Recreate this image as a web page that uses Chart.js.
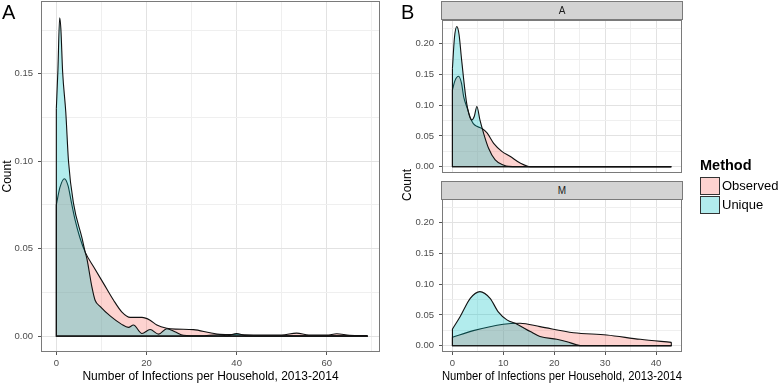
<!DOCTYPE html>
<html>
<head>
  <script src="https://cdn.jsdelivr.net/npm/chart.js@4.4.0/dist/chart.umd.min.js"></script>
  <style>
    body {
      margin: 0;
      width: 778px;
      height: 384px;
      position: relative;
      overflow: hidden;
      background: #fff;
      font-family: "Liberation Sans", Arial, sans-serif;
    }

    canvas {
      position: absolute;
      left: 0;
      top: 0;
    }

    .tag {
      position: absolute;
      font-size: 20px;
      line-height: 20px;
      color: #000;
    }

    .strip {
      position: absolute;
      left: 441px;
      width: 242px;
      height: 19px;
      box-sizing: border-box;
      background: #d3d3d3;
      border: 1px solid #7a7a7a;
      font-size: 10px;
      line-height: 17px;
      text-align: center;
      color: #1a1a1a;
    }

    .ytitle {
      position: absolute;
      font-size: 12px;
      line-height: 12px;
      white-space: nowrap;
      transform: translate(-50%, -50%) rotate(-90deg);
    }

    .legend {
      position: absolute;
      left: 700px;
      top: 157px;
    }

    .legend b {
      display: block;
      font-size: 14.5px;
      line-height: 16px;
      margin-bottom: 3px;
    }

    .key {
      height: 19px;
      display: flex;
      align-items: center;
      font-size: 13px;
    }

    .key span {
      display: inline-block;
      width: 18px;
      height: 16px;
      border: 1px solid #333;
      margin-right: 2px;
    }
  </style>
</head>

<body>
  <canvas id="chartA" width="778" height="384"></canvas>
  <canvas id="chartBA" width="778" height="384"></canvas>
  <canvas id="chartBM" width="778" height="384"></canvas>

  <div class="tag" style="left:2px; top:2px;">A</div>
  <div class="tag" style="left:401px; top:2px;">B</div>
  <div class="strip" style="top:1px;">A</div>
  <div class="strip" style="top:181px;">M</div>
  <div class="ytitle" style="left:407px; top:185px;">Count</div>

  <div class="legend">
    <b>Method</b>
    <div class="key"><span style="background:rgba(248,118,109,0.32)"></span>Observed</div>
    <div class="key"><span style="background:rgba(0,191,196,0.3)"></span>Unique</div>
  </div>

  <script>
    // panel A: all households
    const obsA_x = [0, 0.8, 1.8, 2.6, 3.3, 4.2, 5.2, 6.4, 8.3, 10.5, 12.7, 14.5, 16.4, 19.0, 20.8, 22.3, 24.5, 26.5, 30.4, 34.1, 36.3, 40, 45, 50, 53.3, 56, 60, 62.2, 65, 69];
    const obsA_y = [0.075, 0.085, 0.090, 0.086, 0.077, 0.066, 0.0565, 0.048, 0.0395, 0.030, 0.0205, 0.0139, 0.0107, 0.0107, 0.0091, 0.0063, 0.0045, 0.0040, 0.0037, 0.0019, 0.0010, 0.0008, 0.0006, 0.0006, 0.0017, 0.0006, 0.0006, 0.0013, 0.0005, 0.0003];
    const uniA_x = [0, 0.35, 0.74, 1.0, 1.4, 2.1, 2.7, 3.8, 5.7, 6.4, 6.8, 7.9, 8.6, 9.7, 12.0, 14.5, 16.0, 17.1, 19.0, 20.8, 22.7, 24.5, 26.3, 28.2, 32, 35.9, 38, 40, 42, 50, 60, 69];
    const uniA_y = [0.13, 0.152, 0.182, 0.176, 0.151, 0.128, 0.100, 0.076, 0.056, 0.048, 0.044, 0.028, 0.0205, 0.017, 0.0114, 0.0067, 0.005, 0.0063, 0.0015, 0.0038, 0.0011, 0.0042, 0.0025, 0.0005, 0.0002, 0.0008, 0.0002, 0.0015, 0.0002, 0.0001, 0.0001, 0.0001];

    // panel B, facet A
    const obsBA_x = [0, 0.5, 1.2, 1.8, 2.2, 3.0, 3.5, 4.1, 5.0, 5.8, 6.8, 8.1, 9.7, 11.3, 13.3, 15.3, 20, 30, 43];
    const obsBA_y = [0.125, 0.140, 0.147, 0.135, 0.114, 0.093, 0.080, 0.070, 0.065, 0.062, 0.055, 0.038, 0.025, 0.017, 0.006, 0, 0, 0, 0];
    const uniBA_x = [0, 0.4, 0.86, 1.3, 1.8, 2.8, 3.8, 4.3, 4.8, 5.4, 6.1, 7.1, 8.4, 10, 11, 13, 20, 30, 43];
    const uniBA_y = [0.16, 0.21, 0.228, 0.215, 0.174, 0.103, 0.076, 0.082, 0.098, 0.076, 0.055, 0.030, 0.011, 0.003, 0.0005, 0, 0, 0, 0];

    // panel B, facet M
    const obsBM_x = [0, 4.1, 10, 13.3, 17.2, 23.8, 30.3, 36.9, 43];
    const obsBM_y = [0.0137, 0.0245, 0.035, 0.0365, 0.031, 0.0212, 0.0174, 0.0104, 0.0055];
    const uniBM_x = [0, 1.5, 3.5, 5.4, 7.4, 9.0, 10.7, 12.7, 15.3, 17.2, 20.5, 22.5, 24.4, 25.5, 30, 43];
    const uniBM_y = [0.027, 0.047, 0.077, 0.088, 0.077, 0.055, 0.042, 0.035, 0.023, 0.015, 0.0104, 0.0065, 0.0015, 0, 0, 0];

    // ticks
    const aXTicks = [0, 20, 40, 60];
    const aXLabels = ['0', '20', '40', '60'];
    const aYTicks = [0, 0.05, 0.10, 0.15];
    const aYLabels = ['0.00', '0.05', '0.10', '0.15'];
    const bXTicks = [0, 10, 20, 30, 40];
    const bXLabels = ['0', '10', '20', '30', '40'];
    const bYTicks = [0, 0.05, 0.10, 0.15, 0.20];
    const bYLabels = ['0.00', '0.05', '0.10', '0.15', '0.20'];

    const FONT = '"Liberation Sans", Arial, sans-serif';
    const obsFill = 'rgba(248,118,109,0.32)';
    const uniFill = 'rgba(0,191,196,0.3)';

    function pts(xs, ys) {
      return xs.map((x, i) => ({ x: x, y: ys[i] }));
    }

    function findMajor(list, v) {
      return list.findIndex(m => Math.abs(m - v) < 1e-9);
    }

    // closes each density polygon down to zero and draws the panel frame
    const outline = {
      id: 'outline',
      afterDatasetsDraw(chart) {
        const ctx = chart.ctx;
        const y0 = chart.scales.y.getPixelForValue(0);
        const ca = chart.chartArea;
        ctx.save();
        ctx.beginPath();
        ctx.rect(ca.left, ca.top, ca.right - ca.left, ca.bottom - ca.top);
        ctx.clip();
        ctx.strokeStyle = '#111';
        ctx.lineWidth = 1.1;
        chart.data.datasets.forEach((ds, i) => {
          const els = chart.getDatasetMeta(i).data;
          const a = els[0], b = els[els.length - 1];
          ctx.beginPath();
          ctx.moveTo(a.x, a.y);
          ctx.lineTo(a.x, y0);
          ctx.lineTo(b.x, y0);
          ctx.lineTo(b.x, b.y);
          ctx.stroke();
        });
        ctx.restore();
        ctx.save();
        ctx.strokeStyle = '#7a7a7a';
        ctx.lineWidth = 1;
        ctx.strokeRect(Math.round(ca.left) + 0.5, Math.round(ca.top) + 0.5,
          Math.round(ca.right - ca.left) - 1, Math.round(ca.bottom - ca.top) - 1);
        ctx.restore();
      }
    };

    function axis(opts) {
      const major = opts.major;
      const step = major[1] - major[0];
      const all = major.concat(major.map(v => v + step / 2))
        .filter(v => v >= opts.min && v <= opts.max)
        .sort((p, q) => p - q);
      const s = {
        type: 'linear',
        min: opts.min,
        max: opts.max,
        afterBuildTicks: sc => { sc.ticks = all.map(v => ({ value: v })); },
        ticks: {
          display: opts.show,
          autoSkip: false,
          maxRotation: 0,
          padding: opts.pad,
          color: '#4d4d4d',
          font: { size: 9.5, family: FONT },
          callback: v => {
            const k = findMajor(major, v);
            return k >= 0 ? opts.labels[k] : '';
          }
        },
        grid: {
          color: c => (c.tick && findMajor(major, c.tick.value) >= 0) ? '#e2e2e2' : '#efefef',
          lineWidth: 1,
          drawTicks: opts.show,
          tickLength: 3,
          tickColor: c => (c.tick && findMajor(major, c.tick.value) >= 0) ? '#555' : 'rgba(0,0,0,0)'
        },
        border: { display: false },
        title: opts.title ? {
          display: true,
          text: opts.title,
          color: '#000',
          font: { size: 12, family: FONT },
          padding: 0
        } : { display: false },
        afterFit: sc => {
          if (opts.width !== undefined) sc.width = opts.width;
          if (opts.height !== undefined) sc.height = opts.height;
          sc.paddingLeft = 0; sc.paddingRight = 0; sc.paddingTop = 0; sc.paddingBottom = 0;
        }
      };
      return s;
    }

    function makeChart(id, obs, uni, x, y, padding) {
      return new Chart(document.getElementById(id), {
        type: 'line',
        data: {
          datasets: [{
            label: 'Observed',
            data: obs,
            backgroundColor: obsFill,
            borderColor: '#111',
            borderWidth: 1.1,
            fill: 'origin',
            pointRadius: 0,
            cubicInterpolationMode: 'monotone',
            order: 2
          }, {
            label: 'Unique',
            data: uni,
            backgroundColor: uniFill,
            borderColor: '#111',
            borderWidth: 1.1,
            fill: 'origin',
            pointRadius: 0,
            cubicInterpolationMode: 'monotone',
            order: 1
          }]
        },
        options: {
          responsive: false,
          animation: false,
          devicePixelRatio: 1,
          layout: { padding: padding },
          plugins: {
            legend: { display: false },
            tooltip: { enabled: false },
            title: { display: false }
          },
          scales: { x: x, y: y }
        },
        plugins: [outline]
      });
    }

    const xTitle = 'Number of Infections per Household, 2013-2014';

    makeChart('chartA', pts(obsA_x, obsA_y), pts(uniA_x, uniA_y),
      axis({ min: -3.4, max: 71.8, major: aXTicks, labels: aXLabels, show: true, pad: 3, title: xTitle, height: 32 }),
      axis({ min: -0.0091, max: 0.1916, major: aYTicks, labels: aYLabels, show: true, pad: 5, title: 'Count', width: 41 }),
      { left: 0, top: 1, right: 398, bottom: 0 });

    makeChart('chartBA', pts(obsBA_x, obsBA_y), pts(uniBA_x, uniBA_y),
      axis({ min: -2.05, max: 45.1, major: bXTicks, labels: bXLabels, show: false, pad: 3, height: 0 }),
      axis({ min: -0.0102, max: 0.2385, major: bYTicks, labels: bYLabels, show: true, pad: 5, width: 62 }),
      { left: 380, top: 20, right: 96, bottom: 211 });

    makeChart('chartBM', pts(obsBM_x, obsBM_y), pts(uniBM_x, uniBM_y),
      axis({ min: -2.05, max: 45.1, major: bXTicks, labels: bXLabels, show: true, pad: 3, title: xTitle, height: 32 }),
      axis({ min: -0.0102, max: 0.2385, major: bYTicks, labels: bYLabels, show: true, pad: 5, width: 62 }),
      { left: 380, top: 199, right: 96, bottom: 0 });
  </script>
</body>
</html>
